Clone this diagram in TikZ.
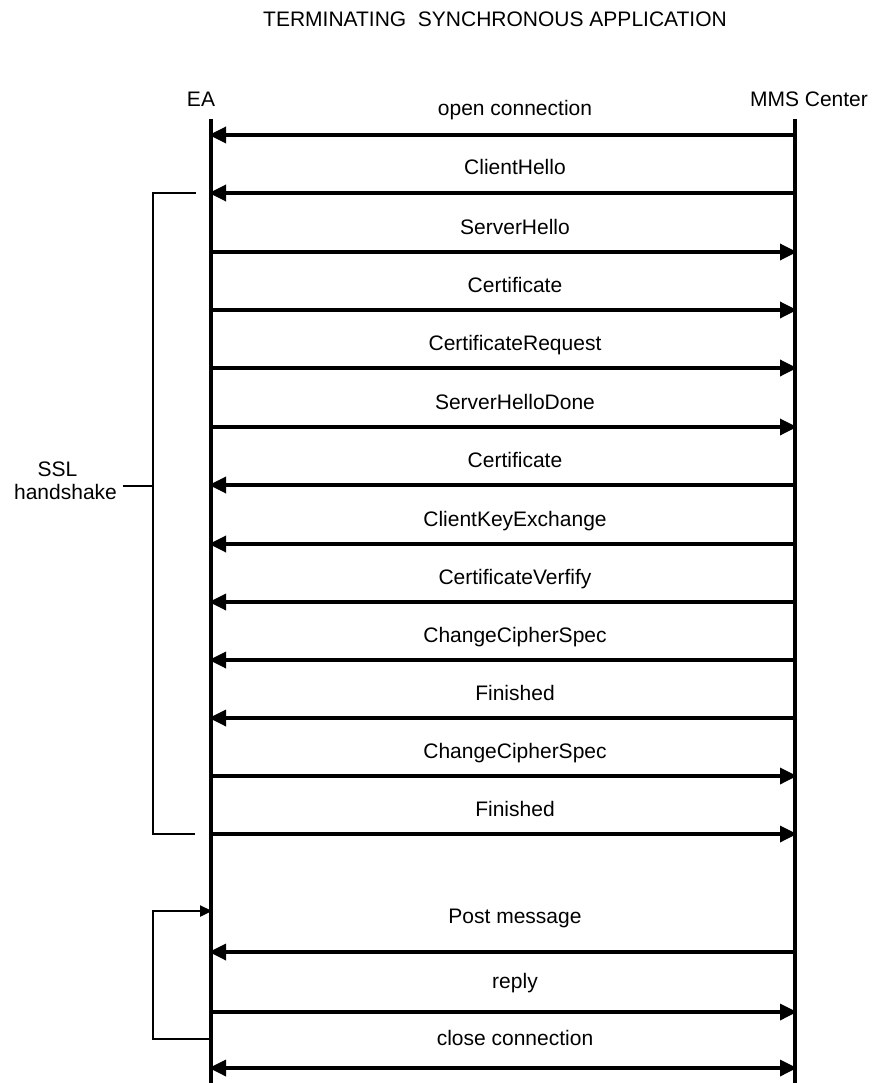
\documentclass[tikz,border=0pt]{standalone}
\usepackage{fontspec}
\setmainfont{Liberation Sans}
\usetikzlibrary{arrows.meta}
\begin{document}
\begin{tikzpicture}[x=1pt,y=-1pt,
  lbl/.style={font=\fontsize{21}{23}\selectfont, inner sep=0pt},
  life/.style={line width=3.4pt},
  tipL/.tip={Triangle[length=17pt,width=16pt]},
  msg/.style={line width=3.4pt, -tipL},
  bimsg/.style={line width=3.4pt, tipL-tipL},
  brk/.style={line width=2.4pt},
  ]
\useasboundingbox (0,0) rectangle (879,1083);

% title and participants
\node[lbl, anchor=base west] (title) at (263,27) {TERMINATING\ \ SYNCHRONOUS APPLICATION};
\node[lbl, anchor=base] (ea) at (201,107) {EA};
\node[lbl, anchor=base] (mms) at (809,107) {MMS Center};

% lifelines
\coordinate (eaTop) at (211,119);
\coordinate (eaBot) at (211,1083);
\coordinate (mmsTop) at (795,119);
\coordinate (mmsBot) at (795,1083);
\draw[life] (eaTop) -- (eaBot);
\draw[life] (mmsTop) -- (mmsBot);

% message anchors on both lifelines and their labels (baseline)
\foreach \i/\y/\ly/\t in {
  1/135/116/open connection,
  2/193/175/ClientHello,
  3/252/234/ServerHello,
  4/310/292/Certificate,
  5/368/350/CertificateRequest,
  6/427/409/ServerHelloDone,
  7/485/467/Certificate,
  8/544/526/ClientKeyExchange,
  9/602/584/CertificateVerfify,
  10/660/642/ChangeCipherSpec,
  11/718/700/Finished,
  12/776/758/ChangeCipherSpec,
  13/834/816/Finished,
  14/952/923/Post message,
  15/1012/988/reply,
  16/1068/1045/close connection} {
  \coordinate (a\i) at (209,\y);
  \coordinate (b\i) at (797,\y);
  \node[lbl, anchor=base] (m\i) at (515,\ly) {\t};
}

% MMS Center -> EA
\foreach \i in {1,2,7,8,9,10,11,14}
  \draw[msg] (b\i) -- (a\i);
% EA -> MMS Center
\foreach \i in {3,4,5,6,12,13,15}
  \draw[msg] (a\i) -- (b\i);
% both directions
\draw[bimsg] (a16) -- (b16);

% SSL handshake bracket
\coordinate (brTopR) at (196,193);
\coordinate (brTopL) at (153,193);
\coordinate (brBotL) at (153,834);
\coordinate (brBotR) at (195,834);
\coordinate (brMid) at (153,486);
\coordinate (brTick) at (123,486);
\draw[brk] (brTopR) -- (brTopL) -- (brBotL) -- (brBotR);
\draw[brk] (brMid) -- (brTick);
\node[lbl, align=center] (ssl) at (65.5,481) {SSL\hspace*{16pt}\\handshake};

% loop back to the post message
\coordinate (lpBot) at (211,1039);
\coordinate (lpCorner) at (153,1039);
\coordinate (lpTop) at (212,911);
\draw[brk, -{Triangle[length=12pt,width=11pt]}] (lpBot) -- (lpCorner) |- (lpTop);
\end{tikzpicture}
\end{document}
